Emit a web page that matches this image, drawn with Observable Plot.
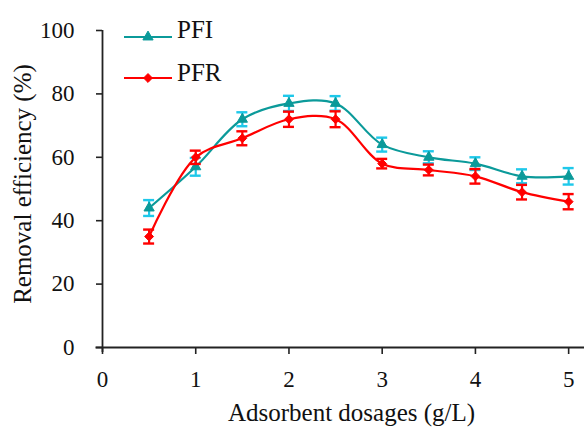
<!DOCTYPE html>
<html>
<head>
<meta charset="utf-8">
<script src="https://cdn.jsdelivr.net/npm/d3@7"></script>
<script src="https://cdn.jsdelivr.net/npm/@observablehq/plot@0.6"></script>
<style>
  html, body { margin: 0; padding: 0; background: #fff; }
  #chart { width: 584px; height: 436px; }
</style>
</head>
<body>
<div id="chart"></div>
<script>
// Adsorbent dosage (g/L) and removal efficiency (%) with standard deviations
const dosage = [0.5, 1, 1.5, 2, 2.5, 3, 3.5, 4, 4.5, 5];
const pfi    = [44, 57, 72, 77, 77, 64, 60, 58, 54, 54];
const pfiErr = [2.5, 2.8, 2.2, 2.4, 2.3, 2.2, 1.9, 2.0, 2.2, 2.6];
const pfr    = [35, 60, 66, 72, 72, 58, 56, 54, 49, 46];
const pfrErr = [2.2, 2.1, 2.2, 2.4, 2.5, 1.5, 1.7, 2.3, 2.3, 2.4];
const xTicks = [0, 1, 2, 3, 4, 5];
const yTicks = [0, 20, 40, 60, 80, 100];
const seriesNames = ["PFI", "PFR"];

const series = [
  {name: seriesNames[0], values: pfi, errors: pfiErr, line: "#0b9a9a", bar: "#1ec8ea", symbol: "triangle", r: 3.8},
  {name: seriesNames[1], values: pfr, errors: pfrErr, line: "#ff0000", bar: "#ff0000", symbol: "diamond2", r: 4}
];

const rows = series.flatMap(s => dosage.map((x, i) => ({
  series: s.name, x, y: s.values[i], e: s.errors[i]
})));

const font = "'Liberation Serif', 'DejaVu Serif', serif";

const marks = [
  // axis lines crossing slightly past the origin
  Plot.ruleX([0], {y1: -1.6, y2: 100, stroke: "#222", strokeWidth: 1.8}),
  Plot.ruleY([0], {x1: -0.07, x2: 5.17, stroke: "#222", strokeWidth: 1.8}),
  Plot.axisX({ticks: xTicks, tickSize: 7, tickPadding: 16, tickFormat: d => d, label: null,
    fontSize: 23, fontFamily: font, fontVariant: "normal", stroke: "#222", strokeWidth: 1.6, fill: "#111"}),
  Plot.axisY({ticks: yTicks, tickSize: 6, tickPadding: 22, tickFormat: d => d, label: null,
    fontSize: 23, fontFamily: font, fontVariant: "normal", stroke: "#222", strokeWidth: 1.6, fill: "#111"}),
  Plot.text(["Adsorbent dosages (g/L)"], {frameAnchor: "bottom", dx: 8, dy: 73,
    fontSize: 25, fontFamily: font, fill: "#111"}),
  Plot.text(["Removal efficiency (%)"], {frameAnchor: "left", textAnchor: "middle", rotate: -90,
    dx: -80, dy: -5, fontSize: 25, fontFamily: font, fill: "#111"})
];

for (const s of series) {
  const data = rows.filter(d => d.series === s.name);
  marks.push(
    Plot.line(data, {x: "x", y: "y", stroke: s.line, strokeWidth: 2.2, curve: "catmull-rom"}),
    Plot.ruleX(data, {x: "x", y1: d => d.y - d.e, y2: d => d.y + d.e, stroke: s.bar, strokeWidth: 2.2}),
    Plot.ruleY(data, {y: d => d.y + d.e, x1: "x", x2: "x", insetLeft: -5.5, insetRight: -5.5, stroke: s.bar, strokeWidth: 2.4}),
    Plot.ruleY(data, {y: d => d.y - d.e, x1: "x", x2: "x", insetLeft: -5.5, insetRight: -5.5, stroke: s.bar, strokeWidth: 2.4}),
    Plot.dot(data, {x: "x", y: "y", symbol: s.symbol, r: s.r, fill: s.line, stroke: s.line, strokeWidth: 1})
  );
}

const svg = Plot.plot({
  width: 584,
  height: 436,
  marginLeft: 102,
  marginRight: 0,
  marginTop: 30,
  marginBottom: 89,
  style: {fontFamily: font, background: "#fff", overflow: "visible"},
  x: {domain: [0, 5.17]},
  y: {domain: [0, 100]},
  marks
});

// legend in the upper left of the plot area
const symbolTypes = {triangle: d3.symbolTriangle, diamond2: d3.symbolDiamond2};
const legend = d3.select(svg).append("g")
  .attr("font-family", font).attr("font-size", 25).attr("text-anchor", "start");
series.forEach((s, i) => {
  const y = 37 + i * 41;
  const g = legend.append("g").attr("transform", `translate(0,${y})`);
  g.append("line").attr("x1", 124).attr("x2", 172).attr("stroke", s.line).attr("stroke-width", 2.2);
  g.append("path")
    .attr("transform", "translate(148,0)")
    .attr("d", d3.symbol(symbolTypes[s.symbol], s.r * s.r * Math.PI)())
    .attr("fill", s.line).attr("stroke", s.line);
  g.append("text").attr("x", 177).attr("y", i === 0 ? 1 : 3).attr("fill", "#111").text(s.name);
});

document.getElementById("chart").appendChild(svg);
</script>
</body>
</html>
